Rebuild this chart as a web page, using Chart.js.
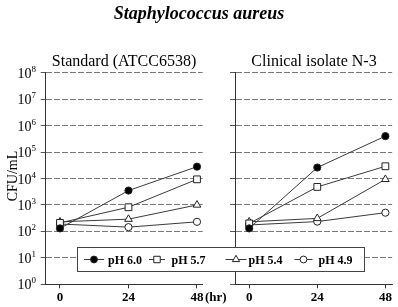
<!DOCTYPE html>
<html><head><meta charset="utf-8">
<script src="https://cdn.jsdelivr.net/npm/chart.js@4/dist/chart.umd.min.js"></script>
<style>
html,body{margin:0;padding:0;background:#fff;}
#wrap{position:relative;width:398px;height:307px;overflow:hidden;background:#fff;}
canvas{position:absolute;left:0;top:0;}
.t{position:absolute;font-family:"Liberation Serif","Times New Roman",serif;color:#000;white-space:nowrap;line-height:1;}
</style></head><body>
<div id="wrap">
<canvas id="c1" width="398" height="307"></canvas>
<canvas id="c2" width="398" height="307"></canvas>
<div class="t" id="mainTitle" style="left:0;width:398px;text-align:center;top:4px;font-size:18px;font-weight:bold;font-style:italic;">Staphylococcus aureus</div>
<div class="t" id="sub1" style="left:45px;width:158px;text-align:center;top:53px;font-size:16px;">Standard (ATCC6538)</div>
<div class="t" id="sub2" style="left:235px;width:158px;text-align:center;top:53px;font-size:16px;">Clinical isolate N-3</div>
</div>
<script>
// ---- data ----
const hours = [0, 24, 48];
const seriesLabels = ['pH 6.0', 'pH 5.7', 'pH 5.4', 'pH 4.9'];
const standardPH60 = [130, 3500, 28000];
const standardPH57 = [210, 820, 9300];
const standardPH54 = [230, 290, 1000];
const standardPH49 = [190, 145, 230];
const clinicalPH60 = [130, 26000, 400000];
const clinicalPH57 = [200, 4800, 29000];
const clinicalPH54 = [230, 310, 9300];
const clinicalPH49 = [175, 235, 510];
const yExponents = [0, 1, 2, 3, 4, 5, 6, 7, 8];
const xTickValues = [0, 24, 48];
const xUnitLabel = '(hr)';
const yTitle = 'CFU/mL';

// ---- styles ----
const SERIF = '"Liberation Serif","Times New Roman",serif';
const LINE = '#3a3a3a';
const styles = [
  {pointStyle: 'circle', radius: 3.6, bg: '#000'},
  {pointStyle: 'rect', radius: 4.8, bg: '#fff'},
  {pointStyle: 'triangle', radius: 4.4, bg: '#fff'},
  {pointStyle: 'circle', radius: 3.6, bg: '#fff'}
];

function makeDatasets(seriesList) {
  return seriesList.map((vals, i) => ({
    label: seriesLabels[i],
    data: hours.map((h, k) => ({x: h, y: vals[k]})),
    borderColor: LINE,
    borderWidth: 1,
    pointStyle: styles[i].pointStyle,
    pointRadius: styles[i].radius,
    pointHoverRadius: styles[i].radius,
    pointBackgroundColor: styles[i].bg,
    pointBorderColor: '#222',
    pointBorderWidth: 1,
    tension: 0,
    clip: false
  }));
}

const yLabelPlugin = {
  id: 'yLabels',
  afterDraw(chart, args, opts) {
    if (!opts.show) return;
    const ctx = chart.ctx, ys = chart.scales.y;
    ctx.save();
    ctx.fillStyle = '#000';
    ctx.textBaseline = 'alphabetic';
    yExponents.forEach(e => {
      const py = ys.getPixelForValue(Math.pow(10, e));
      const expStr = String(e);
      ctx.font = '9px ' + SERIF;
      const ew = ctx.measureText(expStr).width;
      const right = 36;
      ctx.textAlign = 'left';
      ctx.fillText(expStr, right - ew, py - 1);
      ctx.font = '14px ' + SERIF;
      ctx.textAlign = 'right';
      ctx.fillText('10', right - ew, py + 5);
    });
    ctx.save();
    ctx.translate(13, 176);
    ctx.rotate(-Math.PI / 2);
    ctx.font = '14px ' + SERIF;
    ctx.textAlign = 'center';
    ctx.textBaseline = 'middle';
    ctx.fillText(yTitle, 0, 0);
    ctx.restore();
    const xs = chart.scales.x;
    ctx.font = 'bold 13px ' + SERIF;
    ctx.textAlign = 'left';
    ctx.textBaseline = 'top';
    ctx.fillText(xUnitLabel, xs.getPixelForValue(xTickValues[xTickValues.length - 1]) + 8, 291);
    ctx.restore();
  }
};

const legendPlugin = {
  id: 'boxLegend',
  afterDraw(chart, args, opts) {
    if (!opts.show) return;
    const ctx = chart.ctx;
    const L = 77.5, T = 247.5, R = 364.5, B = 271.5;
    ctx.save();
    ctx.fillStyle = '#fff';
    ctx.fillRect(L, T, R - L, B - T);
    ctx.strokeStyle = '#444';
    ctx.lineWidth = 1;
    ctx.strokeRect(L, T, R - L, B - T);
    const cy = 259.5;
    const markerX = [94, 157, 236, 303.5];
    const halfLine = [10, 8, 10.5, 9];
    const textX = [108, 171.5, 248.5, 318.5];
    seriesLabels.forEach((lab, i) => {
      ctx.strokeStyle = LINE;
      ctx.lineWidth = 1;
      ctx.beginPath();
      ctx.moveTo(markerX[i] - halfLine[i], cy);
      ctx.lineTo(markerX[i] + halfLine[i], cy);
      ctx.stroke();
      ctx.fillStyle = styles[i].bg;
      ctx.strokeStyle = '#222';
      Chart.helpers.drawPoint(ctx, {pointStyle: styles[i].pointStyle, radius: styles[i].radius * 0.95, borderWidth: 1}, markerX[i], cy);
      ctx.fillStyle = '#000';
      ctx.font = 'bold 12px ' + SERIF;
      ctx.textAlign = 'left';
      ctx.textBaseline = 'middle';
      ctx.fillText(lab, textX[i], cy + 1);
    });
    ctx.restore();
  }
};

function makeChart(id, seriesList, cfg) {
  return new Chart(document.getElementById(id), {
    type: 'line',
    data: {datasets: makeDatasets(seriesList)},
    plugins: [yLabelPlugin, legendPlugin],
    options: {
      responsive: false,
      animation: false,
      devicePixelRatio: 1,
      layout: {padding: {left: cfg.padLeft, right: cfg.padRight, top: 72.7, bottom: 0}},
      plugins: {
        legend: {display: false},
        tooltip: {enabled: false},
        yLabels: {show: cfg.yLabels},
        boxLegend: {show: cfg.legend}
      },
      scales: {
        x: {
          type: 'linear', min: -5, max: cfg.xMax,
          afterBuildTicks: s => { s.ticks = xTickValues.map(v => ({value: v})); },
          afterFit: s => { s.height = 307 - 284.3; },
          ticks: {color: '#000', font: {family: SERIF, size: 13, weight: 'bold'}, padding: 2, maxRotation: 0, autoSkip: false, callback: v => String(v)},
          grid: {drawOnChartArea: false, drawTicks: true, tickLength: 4, tickColor: '#333', lineWidth: 1},
          border: {display: true, color: '#333', width: 1}
        },
        y: {
          type: 'logarithmic', min: 1, max: 1e8,
          afterBuildTicks: s => { s.ticks = yExponents.map(e => ({value: Math.pow(10, e)})); },
          afterFit: s => { s.width = cfg.yWidth; },
          ticks: {display: false},
          grid: {color: '#7a7a7a', lineWidth: 1, drawTicks: true, tickLength: 5, tickColor: '#555'},
          border: {display: true, color: '#333', width: 1, dash: [6, 2]}
        }
      }
    }
  });
}

makeChart('c1', [standardPH60, standardPH57, standardPH54, standardPH49],
  {padLeft: 0, padRight: 398 - 202.7, yWidth: 45.7, xMax: 50, yLabels: true, legend: false});
makeChart('c2', [clinicalPH60, clinicalPH57, clinicalPH54, clinicalPH49],
  {padLeft: 229, padRight: 3, yWidth: 6, xMax: 50.4, yLabels: false, legend: true});
</script>
</body></html>
